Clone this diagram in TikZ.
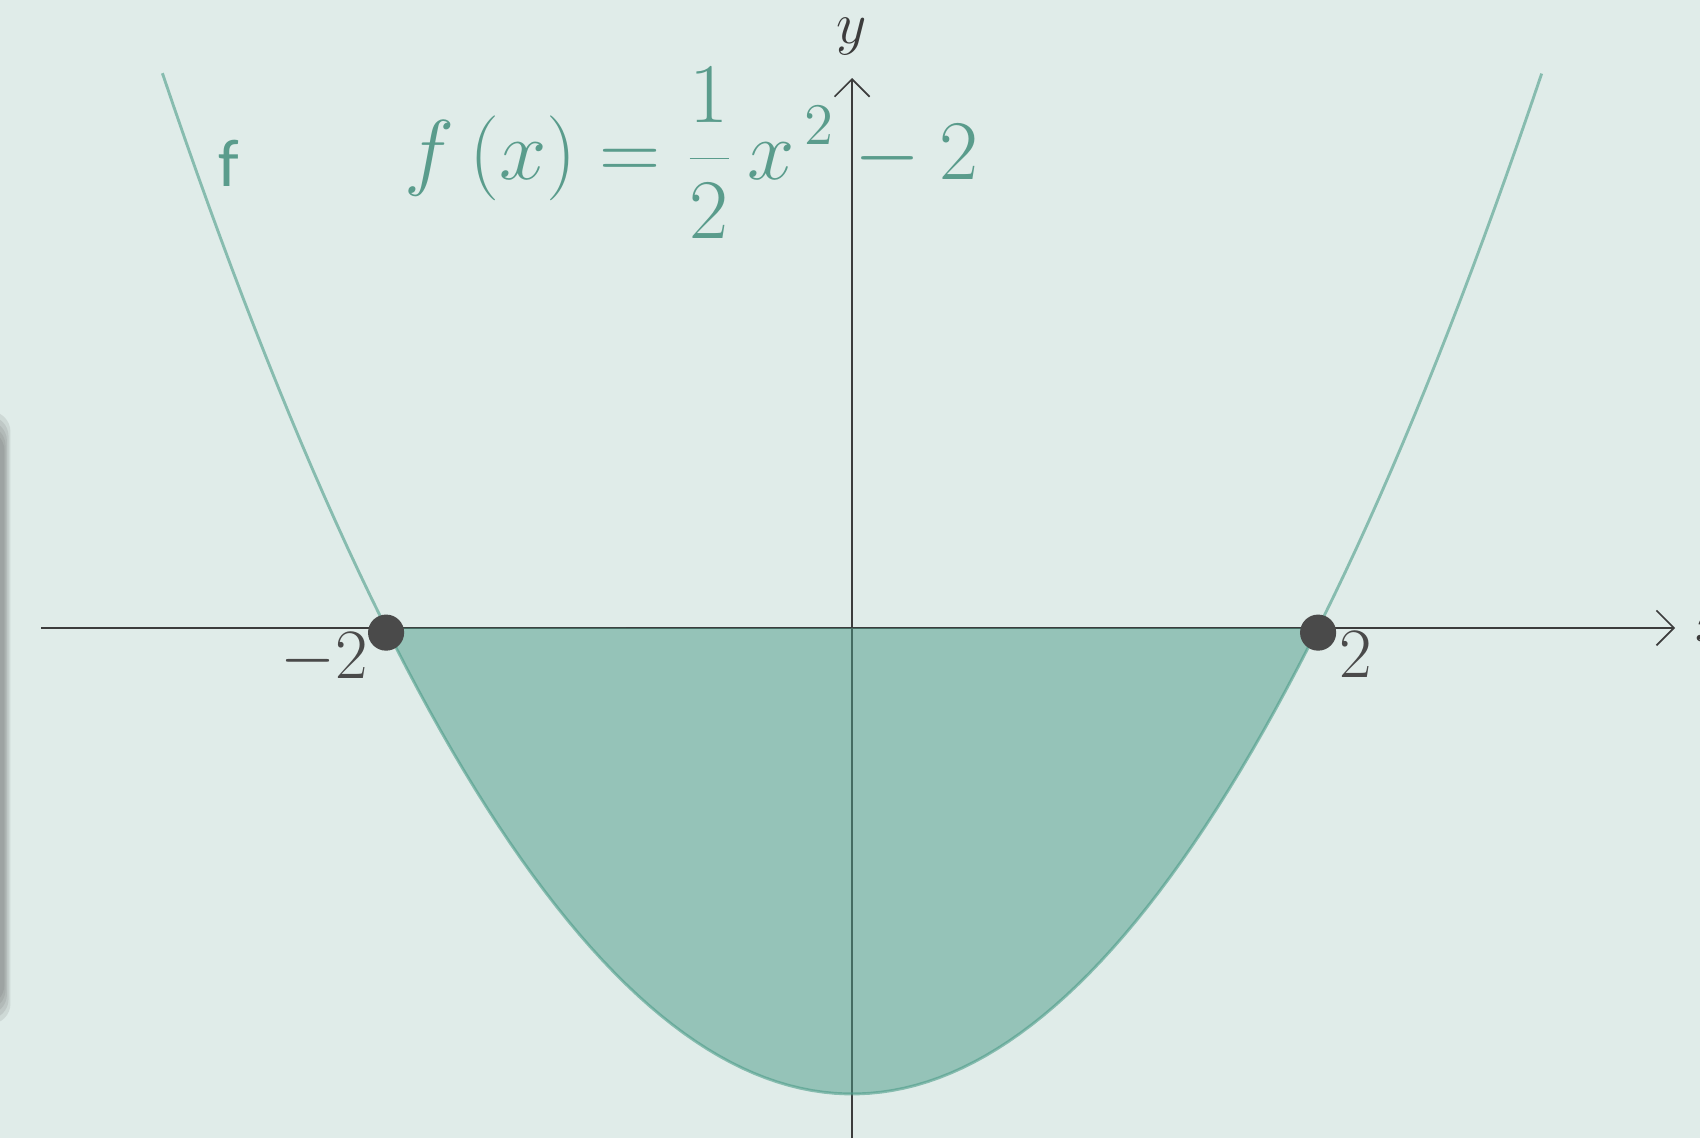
\documentclass[tikz,border=0pt]{standalone}
\usepackage{fontspec}
\usetikzlibrary{positioning,arrows.meta}
\newfontfamily\labelfont{Carlito}
\definecolor{bgmint}{HTML}{E0ECE9}
\definecolor{tealGG}{HTML}{4C9C89}
\definecolor{tealtext}{HTML}{5A9C8C}
\definecolor{axisgray}{HTML}{3C3C3C}
\definecolor{dotgray}{HTML}{4A4A4A}

\begin{document}
\begin{tikzpicture}[x=2cm, y=2cm,
    axis/.style={draw=axisgray, line width=0.4pt, -{Straight Barb[length=1.5mm, width=3mm, line width=0.4pt]}},
    curve/.style={draw=tealGG, draw opacity=0.6, line width=0.7pt},
    region/.style={fill=tealGG, fill opacity=0.5},
    root/.style={circle, fill=dotgray, inner sep=0pt, minimum size=3.1mm},
    ticklabel/.style={text=dotgray, inner sep=0pt, font=\fontsize{16}{18}\selectfont},
    formula/.style={text=tealtext, inner sep=0pt, font=\fontsize{22}{26}\selectfont},
    fname/.style={text=tealtext, inner sep=0pt, font=\labelfont\fontsize{16.5}{19}\selectfont},
    haze/.style={fill=black!60, opacity=0.14, rounded corners=5pt}
]
\useasboundingbox (-3.657,-2.189) rectangle (3.639,2.695);
\fill[bgmint] (-3.657,-2.189) rectangle (3.639,2.695);

% blurred edge on the left
\fill[haze] (-3.75,-1.70) rectangle (-3.612,0.93);
\fill[haze] (-3.75,-1.68) rectangle (-3.620,0.91);
\fill[haze] (-3.75,-1.66) rectangle (-3.627,0.89);
\fill[haze] (-3.75,-1.64) rectangle (-3.633,0.87);
\fill[haze] (-3.75,-1.62) rectangle (-3.638,0.85);

% axes
\coordinate (xmin) at (-3.48,0);
\coordinate (xmax) at (3.532,0);
\coordinate (ymin) at (0,-2.189);
\coordinate (ymax) at (0,2.36);
\draw[axis] (xmin) -- (xmax);
\draw[axis] (ymin) -- (ymax);
\node[text=axisgray, inner sep=0pt, font=\fontsize{15}{18}\selectfont, anchor=base west] (xlab) at (3.618,-0.056) {$x$};
\node[text=axisgray, inner sep=0pt, font=\fontsize{15}{18}\selectfont, anchor=south] (ylab) at (0,2.455) {$y$};

% area between graph and x-axis
\fill[region] (-2,0) -- plot[domain=-2:2, samples=80] (\x,{0.5*\x*\x-2}) -- cycle;

% graph of f
\draw[curve] plot[domain=-2.96:2.96, samples=120] (\x,{0.5*\x*\x-2});

% roots
\node[root] (left) at (-2,-0.02) {};
\node[root] (right) at (2,-0.02) {};
\node[ticklabel] (lt) at (-2.266,-0.133) {$-2$};
\node[ticklabel] (rt) at (2.163,-0.116) {$2$};

% labels
\node[fname] (fl) at (-2.674,1.996) {f};
\node[formula, anchor=base west] (eq) at (-1.923,1.923) {$\displaystyle f\,(x) = \frac{1}{2}\,x^{\,2} - 2$};
\end{tikzpicture}
\end{document}
